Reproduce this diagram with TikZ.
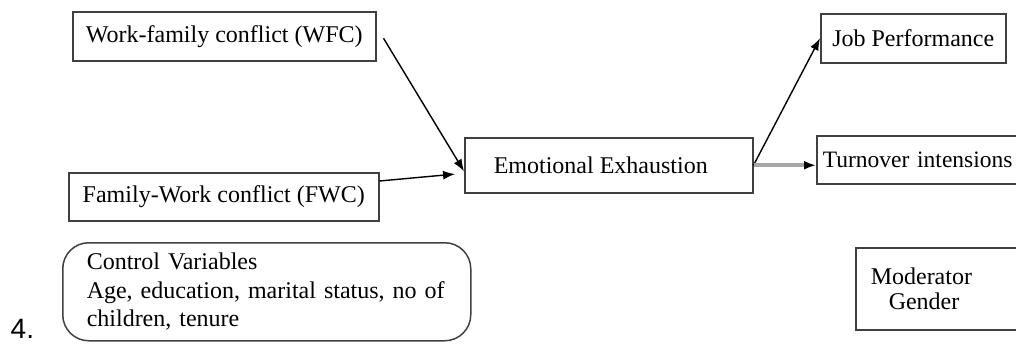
\documentclass[tikz,border=0pt]{standalone}
\usepackage{fontspec}
\setmainfont{Liberation Serif}
\newfontfamily\listfont{Liberation Sans}
\usetikzlibrary{arrows.meta,calc}

\begin{document}
\begin{tikzpicture}[x=1pt,y=-1pt,>={Latex[length=12pt,width=9pt]},line width=1.4pt]
	\tikzstyle{box}=[draw=black!75,line width=1.5pt,anchor=north west,inner sep=0pt,font=\fontsize{24}{28.5}\selectfont]
	\useasboundingbox (0,0) rectangle (1016,343);

	\node[box,minimum width=303pt,minimum height=49pt](wfc) at (72,11){Work-family conflict (WFC)};
	\node[box,minimum width=310pt,minimum height=48pt](fwc) at (68,172){\raisebox{-2pt}{Family-Work conflict (FWC)}};
	\node[box,minimum width=288pt,minimum height=55pt](ee) at (464,137){Emotional Exhaustion\hspace*{16pt}};

	\node[box,minimum width=185pt,minimum height=49pt](jp) at (820,13){Job Performance};
	\node[box,align=left,text width=202pt,inner xsep=6pt,minimum height=48pt,font=\fontsize{23.5}{28}\selectfont](ti) at (816,135){Turnover intensions};

	\node[box,align=left,rounded corners=26pt,text width=360pt,inner xsep=24pt,minimum height=98pt](cv) at (62,242){Control Variables\\Age, education, marital status, no of\\children, tenure};
	\node[box,align=left,text width=170pt,inner xsep=15pt,minimum height=82pt,font=\fontsize{24}{25}\selectfont](mod) at (855,247){Moderator\\\hspace*{18pt}Gender};

	\node[font=\listfont\fontsize{28}{28}\selectfont,anchor=base west,inner sep=0pt](num) at (10,338){4.};

	\draw[->] ($(wfc.east)+(7,2)$) -- ($(ee.west)+(0,6)$);
	\draw[->,shorten >=9pt] ($(fwc.north east)+(0,9)$) -- ($(ee.west)+(0,8)$);
	\draw[->] (ee.east) -- (jp.west);
	\draw[->,draw=black!35,line width=4pt,-{Latex[length=12pt,width=9pt,color=black]}] (ee.east) -- (ee.east -| ti.west);
\end{tikzpicture}
\end{document}
